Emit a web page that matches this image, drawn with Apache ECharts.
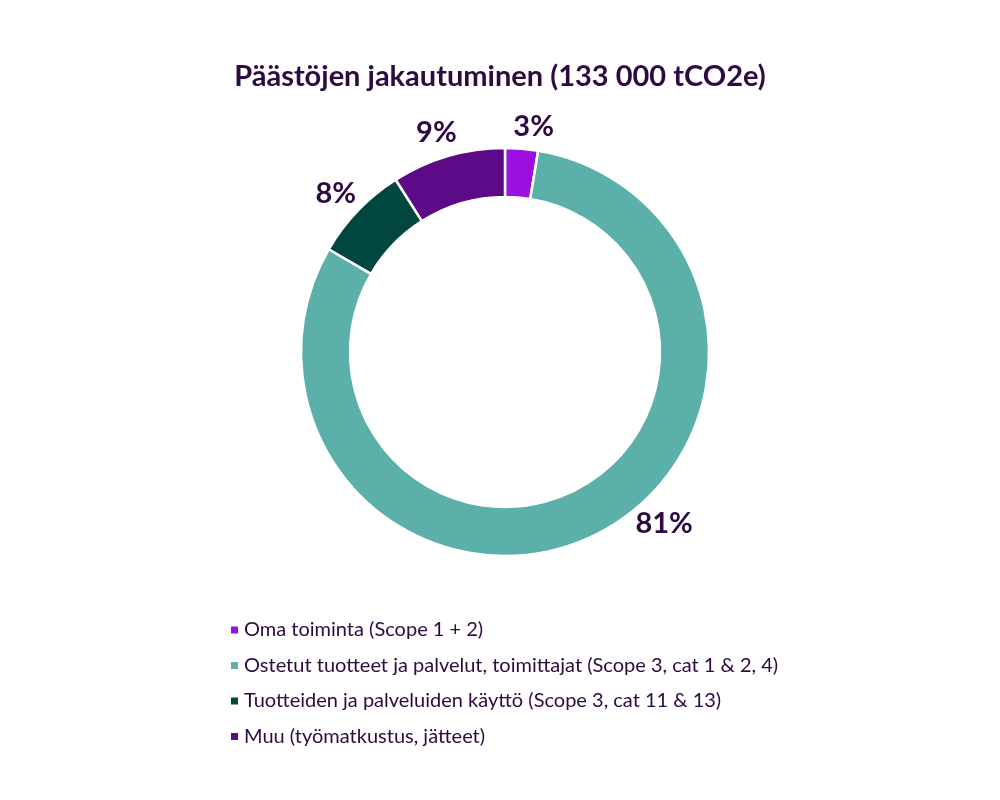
<!DOCTYPE html>
<html>
<head>
<meta charset="utf-8">
<script src="https://cdn.jsdelivr.net/npm/echarts@6/dist/echarts.min.js"></script>
<style>
  html, body { margin: 0; padding: 0; background: #fff; }
  #chart { width: 1000px; height: 800px; }
</style>
</head>
<body>
<div id="chart"></div>
<script>
// osuudet prosentteina (luettu kuvasta)
const categories = [
    'Oma toiminta (Scope 1 + 2)',
    'Ostetut tuotteet ja palvelut, toimittajat (Scope 3, cat 1 & 2, 4)',
    'Tuotteiden ja palveluiden käyttö (Scope 3, cat 11 & 13)',
    'Muu (työmatkustus, jätteet)'
]
const shares = [2.6, 80.8, 7.6, 9.0]
const colors = ['#9b10e0', '#5bb0a9', '#01463f', '#5c0a87']

const textColor = '#2d0a40'
const font = 'Lato'

let myChart = echarts.init(document.getElementById('chart'))

let data = []
for (let i = 0; i < categories.length; i++) {
    data.push({ name: categories[i], value: shares[i], itemStyle: { color: colors[i] } })
}

let option = {
    animation: false,
    title: {
        text: 'Päästöjen jakautuminen (133 000 tCO2e)',
        left: 'center',
        top: 57,
        textStyle: { color: textColor, fontSize: 29, fontWeight: 'bold', fontFamily: font }
    },
    legend: {
        orient: 'vertical',
        left: 224,
        top: 615,
        itemWidth: 9,
        itemHeight: 9,
        itemGap: 15.5,
        icon: 'rect',
        textStyle: { color: textColor, fontSize: 20, fontFamily: font },
        data: categories
    },
    series: [{
        type: 'pie',
        center: [505, 352],
        radius: [155, 204],
        startAngle: 90,
        clockwise: true,
        itemStyle: { borderColor: '#fff', borderWidth: 2.5 },
        label: {
            show: true,
            position: 'outside',
            formatter: function (p) { return Math.round(p.value) + '%' },
            color: textColor,
            fontSize: 29,
            fontWeight: 'bold',
            fontFamily: font
        },
        labelLine: { show: false, length: 24, length2: 0 },
        // tekstit keskitetään viivan päähän, iso osuus siirretään sivuun
        labelLayout: function (params) {
            if (params.dataIndex === 1) {
                return { align: 'center', verticalAlign: 'middle', dx: 57, dy: -35 }
            }
            if (params.dataIndex === 0) {
                return { align: 'center', verticalAlign: 'middle', dx: 5, dy: 2 }
            }
            return { align: 'center', verticalAlign: 'middle' }
        },
        emphasis: { disabled: true },
        data: data
    }]
}
myChart.setOption(option)
</script>
</body>
</html>
